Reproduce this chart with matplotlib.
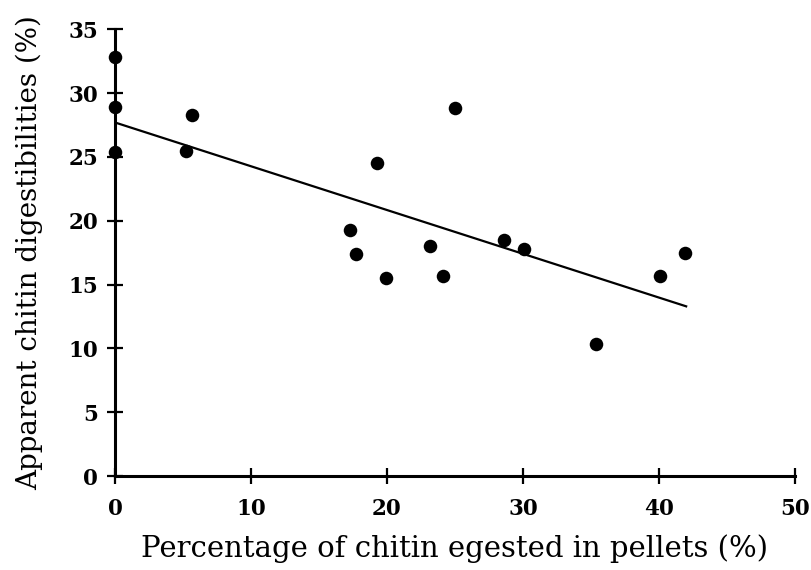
import matplotlib
matplotlib.use("Agg")
import matplotlib.pyplot as plt
import numpy as np

# percentage of chitin egested in pellets (%) vs apparent chitin digestibility (%)
pellet_pct = [0.0, 0.0, 0.0, 5.2, 5.7, 17.3, 17.7, 19.3, 19.9, 23.2,
              24.1, 25.0, 28.6, 30.1, 35.4, 40.05, 41.9]
digestibility = [32.8, 28.9, 25.4, 25.5, 28.3, 19.3, 17.4, 24.55, 15.5, 18.0,
                 15.65, 28.8, 18.5, 17.8, 10.35, 15.7, 17.5]

# regression line
fit_intercept = 27.7
fit_slope = -0.343
fit_range = [0.0, 42.0]

x_ticks = [0, 10, 20, 30, 40, 50]
y_ticks = [0, 5, 10, 15, 20, 25, 30, 35]

plt.rcParams["font.family"] = ["DejaVu Serif"]

fig = plt.figure(figsize=(8.12, 5.70), dpi=100)
ax = fig.add_axes([0.1416, 0.1649, 0.8374, 0.7837])

ax.scatter(pellet_pct, digestibility, s=95, color="black", zorder=3,
           clip_on=False, linewidths=0)
fx = np.array(fit_range)
ax.plot(fx, fit_intercept + fit_slope * fx, color="black", lw=1.6)

ax.set_xlim(0, 50)
ax.set_ylim(0, 35)
ax.set_xticks(x_ticks)
ax.set_yticks(y_ticks)
for side in ["top", "right"]:
    ax.spines[side].set_visible(False)
for side in ["left", "bottom"]:
    ax.spines[side].set_linewidth(2.2)

ax.tick_params(direction="inout", length=12, width=1.6, labelsize=15.5,
               pad=6)
ax.tick_params(axis="x", pad=10)
for lab in ax.get_xticklabels() + ax.get_yticklabels():
    lab.set_fontweight("bold")

ax.set_xlabel("Percentage of chitin egested in pellets (%)", fontsize=21,
              labelpad=10)
ax.set_ylabel("Apparent chitin digestibilities (%)", fontsize=20,
              labelpad=18)

fig.savefig("out.png", dpi=100, facecolor="white")
